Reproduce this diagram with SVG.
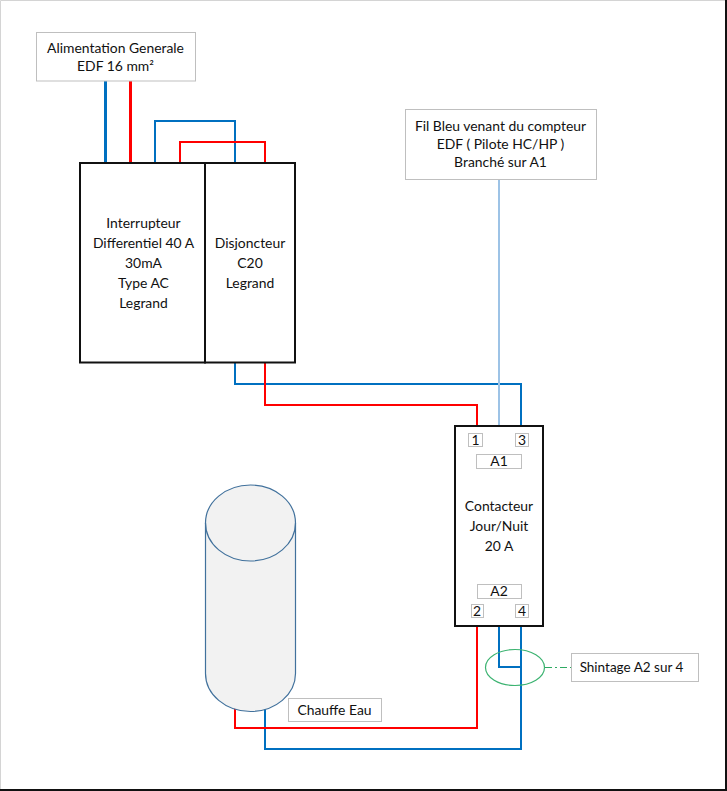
<svg xmlns="http://www.w3.org/2000/svg" width="727" height="791" viewBox="0 0 727 791">
<style>
text{font-family:"Lato","Carlito","Open Sans",sans-serif;font-size:13.900px;fill:#111;text-anchor:middle}
.lbl{fill:#fff;stroke:#bfbfbf;stroke-width:1}
.dev{fill:#fff;stroke:#111;stroke-width:2}
.w{fill:none;stroke-width:2}
.b{stroke:#0070c0}.r{stroke:#ff0000}
</style>
<rect width="727" height="791" fill="#fff"/>
<g id="frame"><path d="M0.500 791V0.500H727" fill="none" stroke="#d4d4d4"/><path d="M726 0V790H0" fill="none" stroke="#111" stroke-width="2"/></g>
<g id="connectors">
<path class="w b" style="stroke-width:3" d="M105.500 81V163"/>
<path class="w r" style="stroke-width:3" d="M130.500 81V163"/>
<path class="w b" d="M155 163V121H235V163"/>
<path class="w r" d="M180 163V142H265V163"/>
<path class="w b" d="M235 363V384H521V426"/>
<path class="w r" d="M265 363V405H477V426"/>
<path class="w" stroke="#9dc3e6" d="M499 180V426"/>
<path class="w b" d="M521 626V749H265V708"/>
<path class="w r" d="M477 626V728H235V708"/>
<path class="w b" d="M499 626V667H521"/>
<path fill="none" stroke="#2eaa62" stroke-dasharray="7 3 2 3" d="M545 667.500H571"/>
</g>
<g id="interrupteur"><rect class="dev" x="80" y="163" width="125" height="199.500"/>
<text x="143.500" y="228">Interrupteur</text><text x="143.500" y="248">Differentiel 40 A</text><text x="143.500" y="268">30mA</text><text x="143.500" y="288">Type AC</text><text x="143.500" y="308">Legrand</text></g>
<g id="disjoncteur"><rect class="dev" x="205" y="163" width="90" height="199.500"/>
<text x="250" y="248">Disjoncteur</text><text x="250" y="268">C20</text><text x="250" y="288">Legrand</text></g>
<g id="alimentation"><rect class="lbl" x="36.500" y="32.500" width="159" height="48.500"/>
<text x="115.500" y="53">Alimentation Generale</text><text x="115.500" y="71">EDF 16 mm²</text></g>
<g id="fil-bleu"><rect class="lbl" x="405.500" y="109.500" width="191" height="70"/>
<text x="500.500" y="131">Fil Bleu venant du compteur</text><text x="500.500" y="149">EDF ( Pilote HC/HP )</text><text x="500.500" y="167">Branché sur A1</text></g>
<g id="contacteur"><rect class="dev" x="455" y="426" width="88" height="200"/>
<text x="499" y="511">Contacteur</text><text x="499" y="531">Jour/Nuit</text><text x="499" y="551">20 A</text></g>
<g id="c1"><rect class="lbl" x="468.500" y="433.500" width="14" height="13"/><text x="475.500" y="445">1</text></g>
<g id="c3"><rect class="lbl" x="515.500" y="433.500" width="13" height="13"/><text x="522" y="445">3</text></g>
<g id="a1"><rect class="lbl" x="476.500" y="454.500" width="45" height="14"/><text x="499" y="466">A1</text></g>
<g id="a2"><rect class="lbl" x="477.500" y="584.500" width="44" height="14"/><text x="499" y="596">A2</text></g>
<g id="c2"><rect class="lbl" x="471.500" y="604.500" width="12" height="13"/><text x="477" y="616">2</text></g>
<g id="c4"><rect class="lbl" x="515.500" y="604.500" width="13" height="13"/><text x="522" y="616">4</text></g>
<g id="shunt"><ellipse cx="515" cy="667.500" rx="29.500" ry="18" fill="none" stroke="#3cb371" stroke-width="1.200"/></g>
<g id="shintage"><rect class="lbl" x="571.500" y="653.500" width="127" height="28"/><text x="631.500" y="672" style="font-size:13.500px">Shintage A2 sur 4</text></g>
<g id="chauffe-eau"><path d="M205.500 523A45 38 0 0 1 295.500 523V673.500A45 38 0 0 1 205.500 673.500Z" fill="#f2f2f2" stroke="#41719c" stroke-width="1.200"/>
<path d="M205.500 523A45 38 0 0 0 295.500 523" fill="none" stroke="#41719c" stroke-width="1.200"/></g>
<g id="chauffe-label"><rect class="lbl" x="288.500" y="698.500" width="93" height="23"/><text x="334.500" y="715">Chauffe Eau</text></g>
</svg>
